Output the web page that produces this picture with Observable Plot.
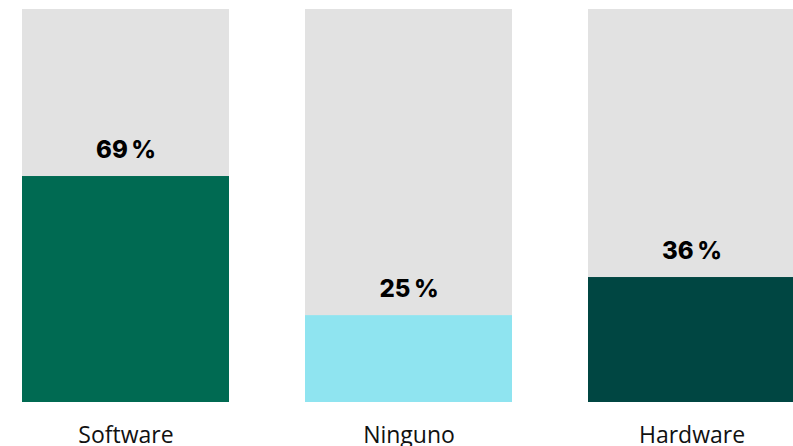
<!DOCTYPE html>
<html>
<head>
<meta charset="utf-8">
<script src="https://cdn.jsdelivr.net/npm/d3@7"></script>
<script src="https://cdn.jsdelivr.net/npm/@observablehq/plot@0.6"></script>
<style>
  html, body { margin: 0; padding: 0; background: #fff; }
  #chart svg { display: block; }
</style>
</head>
<body>
<div id="chart"></div>
<script>
const categories = ["Software", "Ninguno", "Hardware"];
const percentLabels = [69, 25, 36];
// Bar heights as drawn, relative to the grey background (= 100)
const barHeights = [57.5, 22.1, 31.8];
const backgroundTotals = [100, 100, 100];
const colors = ["#006a52", "#8fe4f0", "#004642"];

const data = categories.map((c, i) => ({
  cat: c,
  pct: percentLabels[i],
  h: barHeights[i],
  total: backgroundTotals[i]
}));

const chart = Plot.plot({
  width: 793,
  height: 446,
  marginTop: 9,
  marginBottom: 44,
  marginLeft: 22,
  marginRight: 0,
  style: { fontFamily: "'Open Sans', Lato, sans-serif", background: "#fff" },
  x: { domain: categories, range: [22, 795], paddingInner: 0.2686, paddingOuter: 0, label: null },
  y: { domain: [0, 100], axis: null },
  color: { domain: categories, range: colors },
  marks: [
    Plot.barY(data, { x: "cat", y: "total", fill: "#e2e2e2" }),
    Plot.barY(data, { x: "cat", y: "h", fill: "cat" }),
    Plot.text(data, {
      x: "cat", y: "h", text: d => `${d.pct}\u202F%`,
      dy: -26, fontSize: 24, fontWeight: 800, fill: "#000",
      fontFamily: "Inter, Roboto, sans-serif"
    }),
    Plot.axisX({ tickSize: 0, tickPadding: 24, fontSize: 23, label: null, fill: "#111", color: "#111" })
  ]
});
document.getElementById("chart").append(chart);
</script>
</body>
</html>
